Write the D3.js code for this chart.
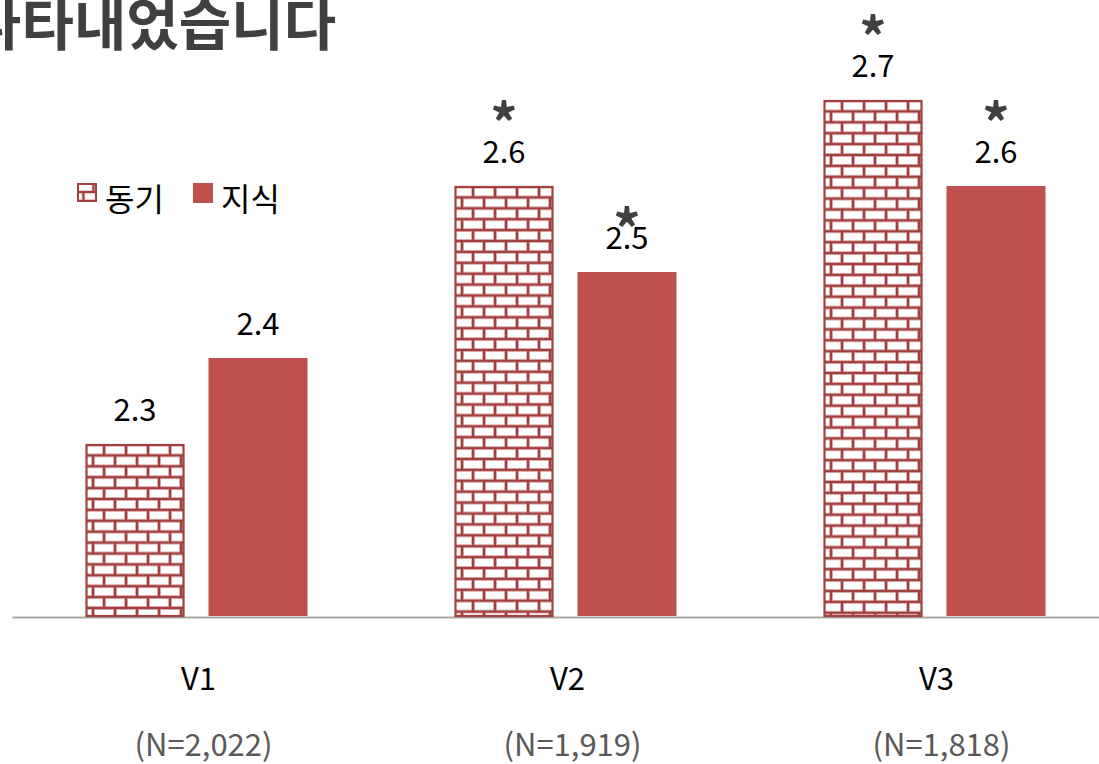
<!DOCTYPE html>
<html><head><meta charset="utf-8">
<script src="https://cdn.jsdelivr.net/npm/d3@7"></script>
<style>
html,body{margin:0;padding:0;background:#fff;overflow:hidden;}
text{font-family:"Noto Sans CJK KR","Noto Sans",sans-serif;}
</style></head>
<body><svg id="c" width="1099" height="764"></svg>
<script>
// ---- data ----
const categories = ["V1", "V2", "V3"];
const sampleSizes = ["(N=2,022)", "(N=1,919)", "(N=1,818)"];
const seriesNames = ["동기", "지식"];
const motiveValues = [2.3, 2.6, 2.7];     // 동기
const knowledgeValues = [2.4, 2.5, 2.6];  // 지식
const motiveSig = [false, true, true];
const knowledgeSig = [false, true, true];
const titleText = "나타내었습니다";

// ---- layout ----
const W = 1099, H = 764;
const baseY = 616;
const svg = d3.select("#c");
const defs = svg.append("defs");

const x = d3.scaleBand().domain(categories).range([12, 1119]);
const xs = d3.scaleBand().domain(seriesNames).range([73.5, 295.5]).paddingInner(0.195);
const y = d3.scaleLinear().domain([2.1, 2.8]).range([baseY, 14]);

const brickDark = "#A0413F";
const solidRed = "#C0504D";

function brickPattern(id, ox, oy, bw, bh, sw) {
  const p = defs.append("pattern").attr("id", id)
    .attr("patternUnits", "userSpaceOnUse")
    .attr("x", ox).attr("y", oy).attr("width", bw).attr("height", bh * 2);
  p.append("rect").attr("width", bw).attr("height", bh * 2).attr("fill", "#fff");
  const g = p.append("g").attr("stroke-linecap", "butt");
  [["#E3B9B8", sw + 1.6], [brickDark, sw]].forEach(([c, w]) => {
    const gg = g.append("g").attr("stroke", c).attr("stroke-width", w);
    gg.append("line").attr("x1", 0).attr("x2", bw).attr("y1", 0).attr("y2", 0);
    gg.append("line").attr("x1", 0).attr("x2", bw).attr("y1", bh).attr("y2", bh);
    gg.append("line").attr("x1", 0).attr("x2", bw).attr("y1", bh * 2).attr("y2", bh * 2);
    gg.append("line").attr("x1", bw * 0.82).attr("x2", bw * 0.82).attr("y1", 0).attr("y2", bh);
    gg.append("line").attr("x1", bw * 0.32).attr("x2", bw * 0.32).attr("y1", bh).attr("y2", bh * 2);
  });
}

// title (cut off at left as in the reference)
svg.append("text").attr("x", -31).attr("y", 45)
  .attr("font-size", 57).attr("font-weight", "bold").attr("fill", "#404040")
  .text(titleText);

// axis line
const axis = d3.axisBottom(x).tickSize(0).tickSizeOuter(0).tickFormat("");
const ag = svg.append("g").attr("transform", `translate(0,${baseY + 1})`).call(axis);
ag.select(".domain").attr("stroke", "#A6A6A6").attr("stroke-width", 2);

// bars
const rows = categories.map((c, i) => ({
  cat: c, i,
  vals: [
    {s: seriesNames[0], v: motiveValues[i], sig: motiveSig[i]},
    {s: seriesNames[1], v: knowledgeValues[i], sig: knowledgeSig[i]}
  ]
}));

const starNudge = {"V2|지식": 20};

rows.forEach(r => {
  r.vals.forEach(d => {
    const bx = x(r.cat) + xs(d.s);
    const bw = xs.bandwidth();
    const top = y(d.v);
    if (d.s === seriesNames[0]) {
      const pid = "brick" + r.i;
      brickPattern(pid, bx + 0.5, top + 0.5, 22, 10.9, 2.3);
      svg.append("rect").attr("x", bx + 1).attr("y", top + 1)
        .attr("width", bw - 2).attr("height", baseY - top - 1)
        .attr("fill", `url(#${pid})`).attr("stroke", brickDark).attr("stroke-width", 2.2);
    } else {
      svg.append("rect").attr("x", bx).attr("y", top)
        .attr("width", bw).attr("height", baseY - top).attr("fill", solidRed);
    }
    const cx = bx + bw / 2;
    svg.append("text").attr("x", cx).attr("y", top - 23)
      .attr("text-anchor", "middle").attr("font-size", 31).attr("fill", "#000")
      .text(d3.format(".1f")(d.v));
    if (d.sig) {
      const nudge = starNudge[r.cat + "|" + d.s] || 0;
      svg.append("text").attr("x", cx).attr("y", top - 42 + nudge)
        .attr("text-anchor", "middle").attr("font-size", 54).attr("font-weight", "bold")
        .attr("fill", "#404040")
        .text("*");
    }
  });
  const gx = x(r.cat) + x.bandwidth() / 2 + 2;
  svg.append("text").attr("x", gx).attr("y", 690).attr("text-anchor", "middle")
    .attr("font-size", 31).attr("fill", "#000").text(r.cat);
  svg.append("text").attr("x", gx + 5).attr("y", 756).attr("text-anchor", "middle")
    .attr("font-size", 31).attr("fill", "#595959").text(sampleSizes[r.i]);
});

// legend
const lg = svg.append("g");
brickPattern("brickLeg", 77, 183, 20, 9, 2);
lg.append("rect").attr("x", 78).attr("y", 184).attr("width", 18).attr("height", 17)
  .attr("fill", "url(#brickLeg)").attr("stroke", brickDark).attr("stroke-width", 2);
lg.append("text").attr("x", 105).attr("y", 211).attr("font-size", 32).attr("fill", "#000").text(seriesNames[0]);
lg.append("rect").attr("x", 193).attr("y", 183).attr("width", 20).attr("height", 20).attr("fill", solidRed);
lg.append("text").attr("x", 221).attr("y", 211).attr("font-size", 32).attr("fill", "#000").text(seriesNames[1]);
</script></body></html>
